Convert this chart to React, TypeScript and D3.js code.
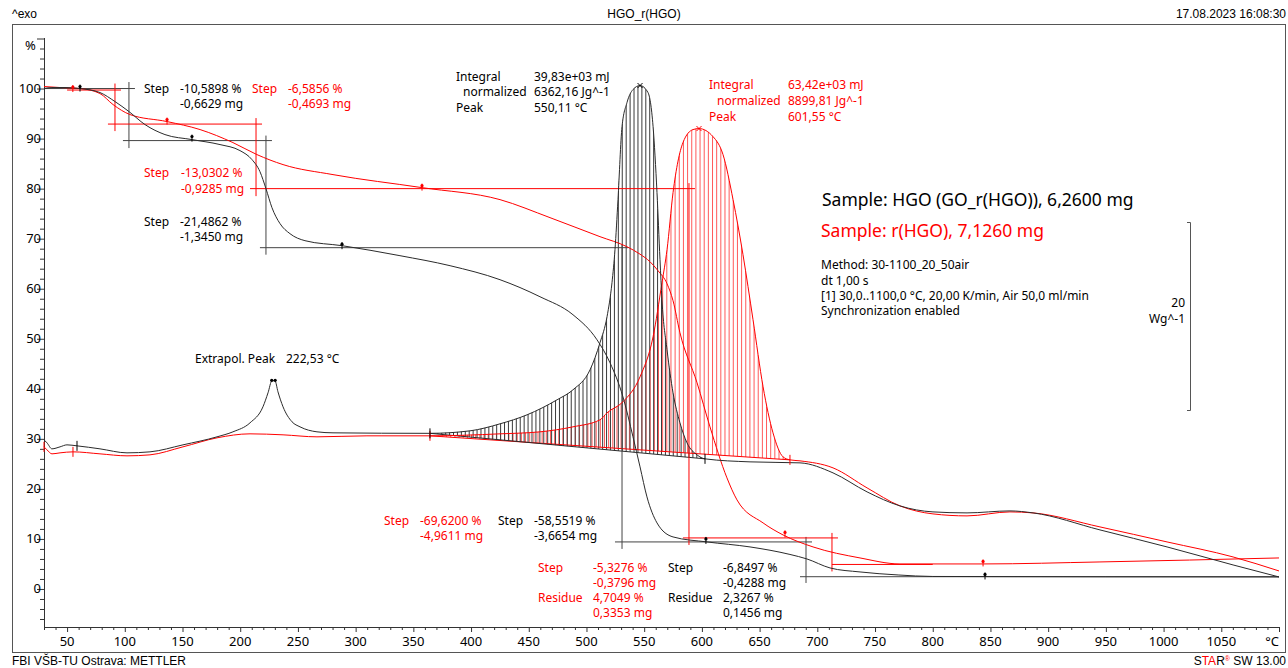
import React from "react";
import * as d3 from "d3";

type P = [number, number];

// TGA, % of initial mass vs temperature (°C)
const tgaHGO: P[] = [
  [30, 100.0], [36.9, 100.2], [48.2, 100.2], [61.2, 100.0], [78.5, 99.2], [91.5, 97.4],
  [103.6, 95.4], [117.5, 92.8], [134.8, 90.8], [158.2, 89.8], [182.5, 88.8], [199.8, 87.6],
  [210.2, 85.8], [217.1, 83.4], [222.3, 80.0], [227.5, 76.2], [234.5, 73.0], [243.1, 71.0],
  [256.1, 69.6], [288.2, 68.6], [338.4, 66.6], [381.8, 64.6], [425.1, 61.8], [459.7, 58.4],
  [488.3, 54.8], [509.1, 49.8], [520.4, 45.2], [531.6, 38.4], [540.3, 30.4], [546.4, 24.4],
  [552.4, 18.4], [561.1, 13.2], [575.0, 10.4], [604.4, 9.4], [641.7, 8.4], [676.3, 6.9],
  [691.0, 6.0], [711.0, 4.2], [737.0, 3.4], [770.0, 2.8], [800.0, 2.5], [1100, 2.4],
];
const tgaRHGO: P[] = [
  [30, 100.4], [43.9, 100.2], [61.2, 100.0], [78.5, 99.0], [89.8, 96.8], [104.5, 94.8],
  [136.6, 93.4], [165.2, 91.8], [193.7, 89.2], [214.5, 86.8], [237.1, 84.8], [280.4, 82.8],
  [357.5, 80.2], [425.1, 77.8], [468.4, 74.2], [511.7, 70.4], [535.0, 68.4], [546.4, 66.9],
  [555.0, 65.4], [562.0, 63.6], [569.8, 61.0], [575.0, 57.6], [581.0, 51.2], [595.8, 41.2],
  [607.0, 32.4], [621.7, 22.2], [630.4, 17.8], [653.0, 13.2], [670.3, 10.8], [696.3, 8.4],
  [737.0, 6.2], [771.6, 5.0], [843.6, 5.0], [944.9, 5.4], [1100, 6.2],
];

// DSC, read in the frame of the % axis (scale bar: 20 Wg^-1)
const dscHGO: P[] = [
  [30, 29.8], [32.6, 29.2], [36.9, 28.0], [43.9, 28.4], [49.9, 28.8], [58.6, 28.6],
  [78.5, 28.0], [101.9, 27.2], [121.8, 27.4], [150.4, 28.8], [179.9, 30.4], [193.7, 31.4],
  [208.5, 33.2], [219.7, 36.4], [224.1, 39.2], [227.5, 41.6], [230.1, 41.6], [232.7, 39.4],
  [237.1, 36.4], [244.9, 33.4], [251.8, 32.4], [266.5, 31.4], [280.4, 31.2], [364.4, 31.1],
  [399.1, 31.6], [425.1, 33.0], [448.5, 34.8], [474.5, 37.8], [488.3, 39.8], [503.1, 43.8],
  [511.7, 49.2], [517.8, 54.4], [522.1, 61.2], [524.7, 67.8], [527.3, 77.8], [530.8, 92.4],
  [535.1, 97.2], [540.3, 99.8], [546.4, 100.6], [553.3, 99.2], [557.7, 92.4], [561.1, 79.2],
  [563.7, 65.8], [565.4, 57.8], [569.8, 47.8], [575.0, 39.2], [581.0, 33.2], [587.1, 29.2],
  [595.8, 26.8], [602.7, 26.0], [641.7, 25.4], [685.0, 25.2], [713.6, 23.2], [743.1, 19.4],
  [771.6, 16.6], [800.2, 15.4], [829.7, 15.2], [866.9, 15.6], [886.9, 15.2], [944.9, 11.8],
  [1003.0, 8.4], [1060.2, 4.8], [1100, 2.4],
];
const dscRHGO: P[] = [
  [30, 28.4], [32.6, 27.8], [36.9, 27.0], [43.9, 27.2], [55.1, 27.4], [78.5, 27.0],
  [101.9, 26.6], [121.8, 26.8], [150.4, 28.4], [179.9, 30.2], [208.5, 31.0], [237.1, 30.8],
  [266.5, 30.4], [309.8, 30.6], [364.4, 30.6], [425.1, 31.0], [459.7, 31.4], [488.3, 32.4],
  [511.7, 33.8], [517.8, 35.2], [531.6, 37.4], [546.4, 42.4], [557.7, 50.4], [565.4, 61.2],
  [569.8, 67.8], [575.0, 79.2], [583.6, 89.2], [592.3, 91.8], [597.5, 92.0], [609.6, 90.4],
  [618.3, 86.8], [627.0, 77.8], [635.6, 66.8], [644.3, 53.8], [653.0, 40.4], [661.6, 31.2],
  [670.3, 26.4], [676.3, 25.8], [685.0, 25.6], [713.6, 24.2], [743.1, 20.2], [771.6, 16.6],
  [800.2, 15.0], [829.7, 14.6], [866.9, 15.4], [886.9, 15.2], [944.9, 12.4], [1003.0, 9.4],
  [1060.2, 6.4], [1100, 3.6],
];

// integration baselines of the two exo peaks
const baseHGO: P[] = [[364.4, 31.1], [602.7, 26.0]];
const baseRHGO: P[] = [[364.4, 30.6], [676.3, 25.8]];

// step evaluation tangents: [T1, v1, T2, v2]
const stepLinesHGO = [
  [30, 100.0, 108.8, 100.0], [103.6, 101.3, 103.6, 88.1], [98.4, 89.6, 227.5, 89.6],
  [222.3, 90.6, 222.3, 66.8], [217.1, 68.2, 536.0, 68.2],
  [530.8, 68.9, 530.8, 8.0], [524.7, 9.4, 695.4, 9.4],
  [690.2, 10.4, 690.2, 1.2], [685.0, 2.45, 1100, 2.45],
];
const stepLinesRHGO = [
  [50, 99.7, 96.7, 99.7], [91.5, 101.0, 91.5, 91.5], [85.4, 92.9, 218.9, 92.9],
  [213.7, 94.1, 213.7, 78.5], [208.5, 80.0, 594.0, 80.0],
  [588.8, 81.1, 588.8, 8.8], [583.6, 10.2, 717.9, 10.2],
  [712.7, 11.2, 712.7, 3.5], [712.7, 4.9, 800.0, 4.9],
];
const stepMarksHGO: P[] = [[61.2, 100.0], [158.2, 90.0], [288.2, 68.5], [603.5, 9.6], [845.3, 2.5]];
const stepMarksRHGO: P[] = [[55.0, 99.9], [136.6, 93.4], [357.5, 80.2], [672.0, 10.9], [843.6, 5.1]];

const peakHGO: P = [546.4, 100.6];
const peakRHGO: P = [597.5, 92.0];
const extrapolPeak: P[] = [[227.3, 41.7], [230.3, 41.7]];
const dscLimitsHGO = [58.6, 364.4, 602.7];
const dscLimitsRHGO = [30, 55.1, 364.4, 676.3];

const xTickLabels = [50, 100, 150, 200, 250, 300, 350, 400, 450, 500, 550, 600, 650, 700, 750, 800, 850, 900, 950, 1000, 1050];
const yTickLabels = [0, 10, 20, 30, 40, 50, 60, 70, 80, 90, 100];

const BLACK = "#2b2b2b";
const RED = "#ff0000";
const FONT = "'Noto Sans', sans-serif";
const HEAD = "'Liberation Sans', Arial, sans-serif";

const x = d3.scaleLinear().domain([30, 1100]).range([44, 1279]);
const y = d3.scaleLinear().domain([-7.6, 110.1]).range([627, 38]);

const line = d3.line<P>().x(d => x(d[0])).y(d => y(d[1])).curve(d3.curveMonotoneX);

function hatchArea(curve: P[], base: P[]) {
  const [[t0, v0], [t1, v1]] = base;
  const bl = (t: number) => v0 + ((v1 - v0) * (t - t0)) / (t1 - t0);
  const pts = curve.filter(d => d[0] >= t0 && d[0] <= t1);
  return d3.area<P>().x(d => x(d[0])).y0(d => y(bl(d[0]))).y1(d => y(d[1])).curve(d3.curveMonotoneX)(pts) || "";
}

const StepMark = ({ p, color }: { p: P; color: string }) => (
  <g stroke={color} fill={color}>
    <line x1={x(p[0])} x2={x(p[0])} y1={y(p[1]) - 4} y2={y(p[1]) + 3} />
    <circle cx={x(p[0])} cy={y(p[1]) - 2} r={1.6} stroke="none" />
  </g>
);

const Cross = ({ p, color }: { p: P; color: string }) => (
  <path d={`M${x(p[0]) - 2.5},${y(p[1]) - 2.5}L${x(p[0]) + 2.5},${y(p[1]) + 2.5}M${x(p[0]) - 2.5},${y(p[1]) + 2.5}L${x(p[0]) + 2.5},${y(p[1]) - 2.5}`} stroke={color} />
);

export default function App() {
  const xMinor = d3.range(30, 1101, 10);
  const yMinor = d3.range(-6, 111, 2);

  const hatchBlack = d3.range(baseHGO[0][0], baseHGO[1][0], 3.4);
  const hatchRed = d3.range(baseRHGO[0][0], baseRHGO[1][0], 3.6);

  const seg = (s: number[], color: string, i: number) => (
    <line key={i} x1={x(s[0])} y1={y(s[1])} x2={x(s[2])} y2={y(s[3])} stroke={color} />
  );

  const limitTick = (t: number, curve: P[], color: string, i: number) => {
    const v = d3.least(curve, d => Math.abs(d[0] - t))![1];
    return (
      <g key={i} stroke={color}>
        <line x1={x(t)} x2={x(t)} y1={y(v) - 5} y2={y(v) + 5} />
      </g>
    );
  };

  const txt = (tx: number, ty: number, s: string, color = "#000", size = 12, anchor = "start") => (
    <text x={tx} y={ty} fill={color} fontSize={size} textAnchor={anchor} fontFamily={FONT}>{s}</text>
  );

  return (
    <svg width={1288} height={668} style={{ position: "absolute", left: 0, top: 0, background: "#fff" }}>
      <defs>
        <clipPath id="clipHGO"><path d={hatchArea(dscHGO, baseHGO)} /></clipPath>
        <clipPath id="clipRHGO"><path d={hatchArea(dscRHGO, baseRHGO)} /></clipPath>
      </defs>

      {/* header / footer */}
      <text x={12} y={18} fontSize={12} fontFamily={HEAD} fill="#000">^exo</text>
      <text x={644} y={18} fontSize={12} fontFamily={HEAD} fill="#000" textAnchor="middle">HGO_r(HGO)</text>
      <text x={1286} y={18} fontSize={12} fontFamily={HEAD} fill="#000" textAnchor="end">17.08.2023 16:08:30</text>
      <text x={12} y={665} fontSize={12} fontFamily={HEAD} fill="#000">FBI VŠB-TU Ostrava: METTLER</text>
      <text x={1286} y={665} fontSize={12} fontFamily={HEAD} fill="#000" textAnchor="end">
        S<tspan fill={RED}>TA</tspan>R<tspan fill={RED} fontSize={7} dy={-4}>®</tspan><tspan dy={4}> SW 13.00</tspan>
      </text>
      <rect x={12.5} y={24.5} width={1273} height={628} fill="none" stroke="#555" />

      {/* axes */}
      <line x1={44.5} x2={44.5} y1={38} y2={627} stroke="#333" />
      <line x1={44} x2={1279} y1={627.5} y2={627.5} stroke="#333" />
      {yMinor.map(v => (
        <line key={v} x1={44} x2={v % 10 === 0 ? 37 : 40} y1={y(v) + 0.5} y2={y(v) + 0.5} stroke="#333" />
      ))}
      {yTickLabels.map(v => (
        <text key={v} x={41} y={y(v) + 4.5} fontSize={13} fontFamily={FONT} textAnchor="end" fill="#000">{v}</text>
      ))}
      <text x={25} y={50} fontSize={13} fontFamily={FONT} fill="#000">%</text>
      {xMinor.map(t => (
        <line key={t} x1={x(t) + 0.5} x2={x(t) + 0.5} y1={627} y2={t % 50 === 0 ? 632 : 630} stroke="#333" />
      ))}
      {xTickLabels.map(t => (
        <text key={t} x={x(t)} y={646} fontSize={13} fontFamily={FONT} textAnchor="middle" fill="#000">{t}</text>
      ))}
      <text x={1279} y={646} fontSize={13} fontFamily={FONT} textAnchor="end" fill="#000">°C</text>

      {/* hatched integrals */}
      <g clipPath="url(#clipRHGO)" stroke="#ff5a5a" strokeWidth={1}>
        {hatchRed.map((t, i) => <line key={i} x1={x(t)} x2={x(t)} y1={38} y2={627} />)}
      </g>
      <g clipPath="url(#clipHGO)" stroke="#3a3a3a" strokeWidth={1}>
        {hatchBlack.map((t, i) => <line key={i} x1={x(t)} x2={x(t)} y1={38} y2={627} />)}
      </g>
      <path d={line(baseRHGO) || ""} stroke={RED} fill="none" />
      <path d={line(baseHGO) || ""} stroke={BLACK} fill="none" />

      {/* step tangents */}
      <g strokeWidth={1}>
        {stepLinesHGO.map((s, i) => seg(s, "#444", i))}
        {stepLinesRHGO.map((s, i) => seg(s, RED, i))}
      </g>

      {/* curves */}
      <path d={line(tgaRHGO) || ""} stroke={RED} fill="none" strokeWidth={1} />
      <path d={line(dscRHGO) || ""} stroke={RED} fill="none" strokeWidth={1} />
      <path d={line(tgaHGO) || ""} stroke={BLACK} fill="none" strokeWidth={1} />
      <path d={line(dscHGO) || ""} stroke={BLACK} fill="none" strokeWidth={1} />

      {/* markers */}
      {stepMarksHGO.map((p, i) => <StepMark key={i} p={p} color="#000" />)}
      {stepMarksRHGO.map((p, i) => <StepMark key={i} p={p} color={RED} />)}
      {dscLimitsRHGO.map((t, i) => limitTick(t, dscRHGO, RED, i))}
      {dscLimitsHGO.map((t, i) => limitTick(t, dscHGO, "#000", i))}
      <Cross p={peakHGO} color="#000" />
      <Cross p={peakRHGO} color={RED} />
      {extrapolPeak.map((p, i) => <circle key={i} cx={x(p[0])} cy={y(p[1])} r={1.6} fill="#000" />)}

      {/* scale bar */}
      <path d="M1187,222.5H1190.5V410.5H1187" stroke="#555" fill="none" />
      {txt(1185, 307, "20", "#000", 12, "end")}
      {txt(1185, 323, "Wg^-1", "#000", 12, "end")}

      {/* sample info */}
      {txt(822, 206, "Sample: HGO (GO_r(HGO)), 6,2600 mg", "#000", 17.5)}
      {txt(821, 237, "Sample: r(HGO), 7,1260 mg", RED, 17.5)}
      {txt(821, 269, "Method: 30-1100_20_50air")}
      {txt(821, 285, "dt 1,00 s")}
      {txt(821, 300, "[1] 30,0..1100,0 °C, 20,00 K/min, Air 50,0 ml/min")}
      {txt(821, 315, "Synchronization enabled")}

      {/* step texts */}
      {txt(144, 93, "Step")}{txt(180, 93, "-10,5898 %")}{txt(180, 108, "-0,6629 mg")}
      {txt(252, 93, "Step", RED)}{txt(288, 93, "-6,5856 %", RED)}{txt(288, 108, "-0,4693 mg", RED)}
      {txt(144, 177, "Step", RED)}{txt(181, 177, "-13,0302 %", RED)}{txt(181, 193, "-0,9285 mg", RED)}
      {txt(144, 226, "Step")}{txt(180, 226, "-21,4862 %")}{txt(180, 241, "-1,3450 mg")}

      {txt(456, 81, "Integral")}{txt(534, 81, "39,83e+03 mJ")}
      {txt(463, 96, "normalized")}{txt(534, 96, "6362,16 Jg^-1")}
      {txt(456, 112, "Peak")}{txt(534, 112, "550,11 °C")}
      {txt(709, 89, "Integral", RED)}{txt(788, 89, "63,42e+03 mJ", RED)}
      {txt(717, 105, "normalized", RED)}{txt(788, 105, "8899,81 Jg^-1", RED)}
      {txt(709, 121, "Peak", RED)}{txt(788, 121, "601,55 °C", RED)}

      {txt(195, 363, "Extrapol. Peak")}{txt(286, 363, "222,53 °C")}

      {txt(384, 525, "Step", RED)}{txt(420, 525, "-69,6200 %", RED)}{txt(420, 540, "-4,9611 mg", RED)}
      {txt(498, 525, "Step")}{txt(534, 525, "-58,5519 %")}{txt(534, 540, "-3,6654 mg")}
      {txt(538, 572, "Step", RED)}{txt(593, 572, "-5,3276 %", RED)}{txt(593, 587, "-0,3796 mg", RED)}
      {txt(538, 602, "Residue", RED)}{txt(593, 602, "4,7049 %", RED)}{txt(593, 617, "0,3353 mg", RED)}
      {txt(668, 572, "Step")}{txt(723, 572, "-6,8497 %")}{txt(723, 587, "-0,4288 mg")}
      {txt(668, 602, "Residue")}{txt(723, 602, "2,3267 %")}{txt(723, 617, "0,1456 mg")}
    </svg>
  );
}
